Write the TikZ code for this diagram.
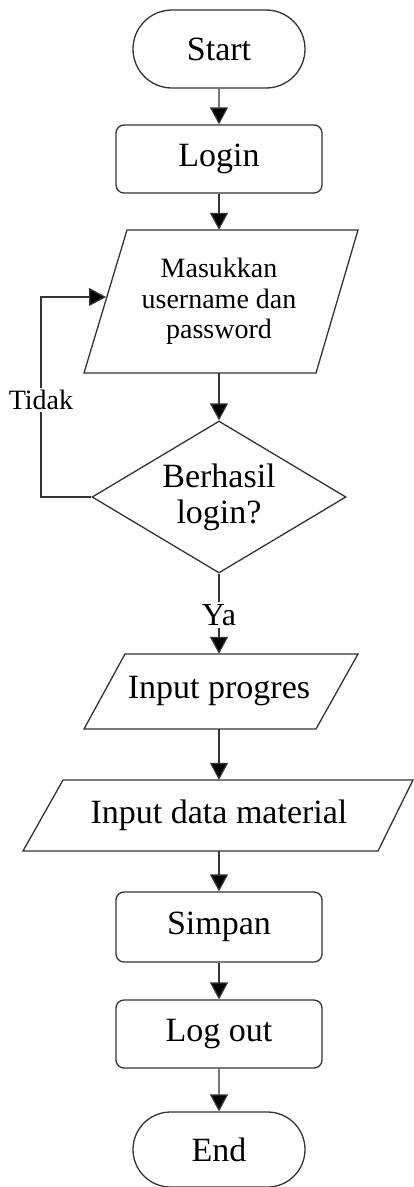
\documentclass[tikz,border=0pt]{standalone}
\usepackage{fontspec}
\setmainfont{Liberation Serif}
\usetikzlibrary{arrows.meta,shapes.geometric,shapes.misc}
\begin{document}
\begin{tikzpicture}[x=1pt,y=-1pt,
  line/.style={draw=black!80,line width=1.3pt},
  arr/.style={line,-{Triangle[width=18pt,length=17pt,fill=black]}},
  big/.style={font=\fontsize{34}{36}\selectfont},
  term/.style={rounded rectangle,line,minimum width=172pt,minimum height=78pt,inner sep=0pt,big},
  proc/.style={rectangle,rounded corners=8pt,line,minimum width=206pt,minimum height=68pt,inner sep=0pt,big},
  io/.style={rectangle,inner sep=0pt,align=center},
  lbl/.style={fill=white,inner sep=2pt}
]
\useasboundingbox (0,0) rectangle (414,1187);

\node[term] (start) at (219,49) {Start};
\node[proc] (login) at (219,159) {Login};

% parallelogram 1
\draw[line] (127,230) -- (358,230) -- (316,373) -- (84,373) -- cycle;
\node[io,minimum width=190pt,minimum height=143pt,font=\fontsize{28}{30.5}\selectfont] (masuk) at (219,301.5)
  {Masukkan\\username dan\\password};

\node[diamond,line,minimum width=254pt,minimum height=152pt,aspect=1.67,inner sep=0pt,align=center,font=\fontsize{34}{36}\selectfont] (cek) at (219,497) {Berhasil\\login?};

% parallelogram 2
\draw[line] (125,654) -- (358,654) -- (316,729) -- (84,729) -- cycle;
\node[io,big,minimum width=200pt,minimum height=75pt] (prog) at (219,691.5) {Input progres};

% parallelogram 3
\draw[line] (63,780) -- (413,780) -- (378,851) -- (23,851) -- cycle;
\node[io,big,minimum width=300pt,minimum height=71pt] (mat) at (219,815.5) {Input data material};

\node[proc,minimum height=70pt] (simpan) at (219,927) {Simpan};
\node[proc] (logout) at (219,1034) {Log out};
\node[term,minimum height=75pt] (end) at (219,1149.5) {End};

\coordinate (back) at (106,297);

\draw[arr] (start) -- (login);
\draw[arr] (login) -- (masuk.north);
\draw[arr] (masuk.south) -- (cek.north);
\draw[arr] (cek.west) -| (41,297) -- (back);
\node[lbl,font=\fontsize{28}{30}\selectfont] (tidak) at (41,400) {Tidak};
\draw[arr] (cek.south) -- (prog.north);
\node[lbl,font=\fontsize{32}{34}\selectfont] (ya) at (219,615) {Ya};
\draw[arr] (prog.south) -- (mat.north);
\draw[arr] (mat.south) -- (simpan);
\draw[arr] (simpan) -- (logout);
\draw[arr] (logout) -- (end);
\end{tikzpicture}
\end{document}
